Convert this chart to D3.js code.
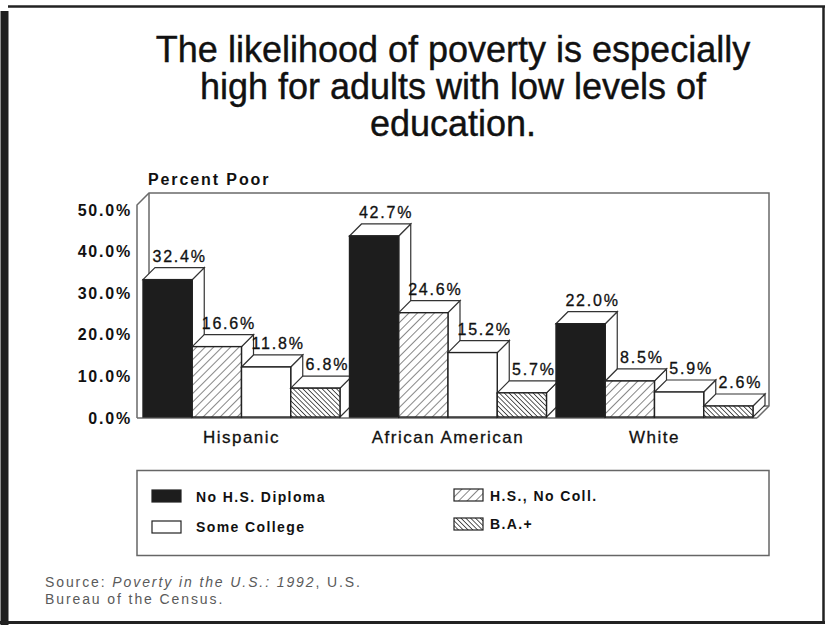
<!DOCTYPE html>
<html>
<head>
<meta charset="utf-8">
<script src="https://cdn.jsdelivr.net/npm/d3@7"></script>
<style>
  html, body { margin: 0; padding: 0; background: #fff; }
  svg { display: block; font-family: "Liberation Sans", Arial, Helvetica, sans-serif; }
</style>
</head>
<body>
<svg id="chart" width="827" height="628"></svg>
<script>
// Poverty rate (%) by race/ethnicity and education level
const categories = ["Hispanic", "African American", "White"];
const seriesNames = ["No H.S. Diploma", "H.S., No Coll.", "Some College", "B.A.+"];
const noDiploma   = [32.4, 42.7, 22.0];
const hsNoColl    = [16.6, 24.6, 8.5];
const someCollege = [11.8, 15.2, 5.9];
const baPlus      = [6.8, 5.7, 2.6];
const yTicks = [0, 10, 20, 30, 40, 50];
const titleLines = [
  "The likelihood of poverty is especially",
  "high for adults with low levels of",
  "education."
];

const seriesValues = [noDiploma, hsNoColl, someCollege, baPlus];
const fills = ["#1d1d1d", "url(#hatchLight)", "#ffffff", "url(#hatchDense)"];

const svg = d3.select("#chart");

// hatch patterns
const defs = svg.append("defs");
const p1 = defs.append("pattern").attr("id", "hatchLight")
  .attr("patternUnits", "userSpaceOnUse").attr("width", 6).attr("height", 6)
  .attr("patternTransform", "rotate(45)");
p1.append("rect").attr("width", 6).attr("height", 6).attr("fill", "#fff");
p1.append("line").attr("x1", 0).attr("y1", 0).attr("x2", 0).attr("y2", 6)
  .attr("stroke", "#222").attr("stroke-width", 1.1);
const p2 = defs.append("pattern").attr("id", "hatchDense")
  .attr("patternUnits", "userSpaceOnUse").attr("width", 3.4).attr("height", 3.4)
  .attr("patternTransform", "rotate(-45)");
p2.append("rect").attr("width", 3.4).attr("height", 3.4).attr("fill", "#fff");
p2.append("line").attr("x1", 0).attr("y1", 0).attr("x2", 0).attr("y2", 3.4)
  .attr("stroke", "#222").attr("stroke-width", 1.5);

// page frame
svg.append("rect").attr("x", 0.5).attr("y", 11).attr("width", 8).attr("height", 614).attr("fill", "#1e1e1e");
svg.append("line").attr("x1", 8).attr("x2", 825).attr("y1", 6.5).attr("y2", 6.5)
  .attr("stroke", "#222").attr("stroke-width", 2.5);
svg.append("line").attr("x1", 823.5).attr("x2", 823.5).attr("y1", 6).attr("y2", 624)
  .attr("stroke", "#222").attr("stroke-width", 2.5);
svg.append("line").attr("x1", 0).attr("x2", 825).attr("y1", 622.5).attr("y2", 622.5)
  .attr("stroke", "#222").attr("stroke-width", 3);

// title
svg.append("text").attr("x", 453).attr("y", 62)
  .attr("text-anchor", "middle").attr("font-size", 36).attr("fill", "#111")
  .attr("stroke", "#111").attr("stroke-width", 0.4)
  .selectAll("tspan").data(titleLines).join("tspan")
  .attr("x", 453).attr("dy", (d, i) => i === 0 ? 0 : 37).text(d => d);

// scales
const dx = 12, dy = 12;
const y = d3.scaleLinear().domain([0, 50]).range([417, 205]);
const yAxisScale = d3.scaleLinear().domain([0, 50]).range([418, 210]);
const x0 = d3.scaleBand().domain(categories).range([143, 753]).paddingInner(0.046);
const x1 = d3.scaleBand().domain(seriesNames).range([0, x0.bandwidth()]);

// 3-D box: back wall, left wall, floor
const boxL = 137, boxR = 757, boxTop = y(50), boxBase = 418;
const box = svg.append("g").attr("fill", "none").attr("stroke", "#6a6a6a").attr("stroke-width", 1.5);
box.append("path").attr("d",
  `M${boxL},${boxBase} L${boxL},${boxTop} L${boxL + dx},${boxTop - dy} L${boxR + dx},${boxTop - dy} L${boxR + dx},${boxBase - dy} L${boxR},${boxBase}`);
box.append("path").attr("d", `M${boxL + dx},${boxTop - dy} L${boxL + dx},${boxBase - dy} L${boxR + dx},${boxBase - dy}`);
box.append("line").attr("x1", boxL).attr("x2", boxR).attr("y1", boxBase).attr("y2", boxBase);

// y axis labels
const yAxis = svg.append("g").attr("transform", `translate(${boxL},0)`)
  .call(d3.axisLeft(yAxisScale).tickValues(yTicks).tickSize(0).tickPadding(5)
    .tickFormat(d => d.toFixed(1) + "%"));
yAxis.select(".domain").remove();
yAxis.selectAll("text").attr("font-size", 16).attr("font-weight", "bold")
  .attr("letter-spacing", 1.8).attr("fill", "#111")
  .attr("font-family", "'Liberation Sans', Arial, sans-serif");

svg.append("text").attr("x", 148).attr("y", 185).attr("font-size", 16)
  .attr("font-weight", "bold").attr("letter-spacing", 1.9).attr("fill", "#111")
  .text("Percent Poor");

// bars, drawn left to right so each front face overlaps the previous side face
const bars = [];
categories.forEach((c, ci) => {
  seriesNames.forEach((s, si) => {
    bars.push({ cat: c, series: s, si, value: seriesValues[si][ci] });
  });
});
const bw = x1.bandwidth();
const y0 = y(0);
const barG = svg.append("g").selectAll("g").data(bars).join("g");
barG.each(function (d) {
  const g = d3.select(this);
  const xl = x0(d.cat) + x1(d.series), xr = xl + bw, yt = y(d.value);
  g.append("path")
    .attr("d", `M${xr},${yt} L${xr + dx},${yt - dy} L${xr + dx},${y0 - dy} L${xr},${y0} Z`)
    .attr("fill", "#fff").attr("stroke", "#333").attr("stroke-width", 1.2);
  g.append("path")
    .attr("d", `M${xl},${yt} L${xl + dx},${yt - dy} L${xr + dx},${yt - dy} L${xr},${yt} Z`)
    .attr("fill", "#fff").attr("stroke", "#333").attr("stroke-width", 1.2);
  g.append("rect").attr("x", xl).attr("y", yt).attr("width", bw).attr("height", y0 - yt)
    .attr("fill", fills[d.si]).attr("stroke", "#222").attr("stroke-width", 1.4);
  g.append("text").attr("x", xl + bw / 2 + dx).attr("y", yt - dy - 6)
    .attr("text-anchor", "middle").attr("font-size", 16).attr("letter-spacing", 1.8)
    .attr("fill", "#111").attr("stroke", "#111").attr("stroke-width", 0.3)
    .text(d.value.toFixed(1) + "%");
});

// category labels
svg.append("g").selectAll("text").data(categories).join("text")
  .attr("x", d => x0(d) + x0.bandwidth() / 2).attr("y", 443)
  .attr("text-anchor", "middle").attr("font-size", 17).attr("letter-spacing", 1.5)
  .attr("fill", "#111").attr("stroke", "#111").attr("stroke-width", 0.3).text(d => d);

// legend
svg.append("rect").attr("x", 137).attr("y", 470.5).attr("width", 632).attr("height", 85)
  .attr("fill", "none").attr("stroke", "#666").attr("stroke-width", 1.5);
const legendPos = [
  { sx: 152, sy: 490, tx: 196, ty: 502 },
  { sx: 454, sy: 489, tx: 490, ty: 501 },
  { sx: 152, sy: 521, tx: 196, ty: 532 },
  { sx: 454, sy: 518, tx: 490, ty: 529 }
];
const leg = svg.append("g").selectAll("g").data(seriesNames).join("g");
leg.append("rect").attr("x", (d, i) => legendPos[i].sx).attr("y", (d, i) => legendPos[i].sy)
  .attr("width", 29).attr("height", 12)
  .attr("fill", (d, i) => fills[i]).attr("stroke", "#222").attr("stroke-width", 1.2);
leg.append("text").attr("x", (d, i) => legendPos[i].tx).attr("y", (d, i) => legendPos[i].ty)
  .attr("font-size", 14).attr("font-weight", "bold").attr("letter-spacing", 1.4)
  .attr("fill", "#111").text(d => d);

// source note
const src = svg.append("text").attr("x", 45).attr("y", 587).attr("font-size", 14)
  .attr("letter-spacing", 1.9).attr("fill", "#5a5a5a");
src.append("tspan").text("Source: ");
src.append("tspan").attr("font-style", "italic").text("Poverty in the U.S.: 1992");
src.append("tspan").text(", U.S.");
svg.append("text").attr("x", 45).attr("y", 604).attr("font-size", 14)
  .attr("letter-spacing", 1.9).attr("fill", "#5a5a5a").text("Bureau of the Census.");
</script>
</body>
</html>
